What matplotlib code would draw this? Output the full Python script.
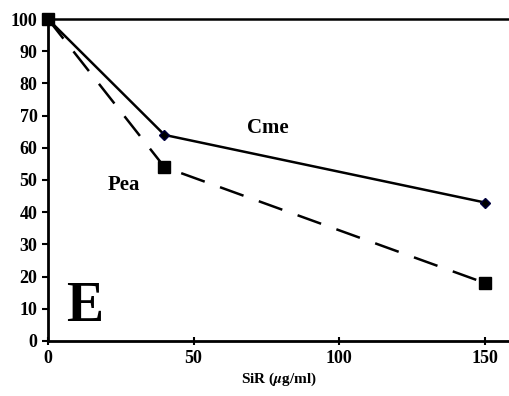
import matplotlib
matplotlib.use("Agg")
import matplotlib.pyplot as plt

# SiR concentration (ug/ml) vs. percent
sir = [0, 40, 150]
cme = [100, 64, 43]
pea = [100, 54, 18]
y_ticks = list(range(0, 101, 10))
x_ticks = [0, 50, 100, 150]

plt.rcParams["font.family"] = ["Liberation Serif", "DejaVu Serif"]
plt.rcParams["font.weight"] = "bold"
plt.rcParams["mathtext.fontset"] = "stix"

fig = plt.figure(figsize=(5.10, 3.96), dpi=100)
ax = fig.add_axes([0.094, 0.139, 0.906, 0.813])

ax.plot(sir, cme, color="black", lw=1.8, marker="D", ms=5.5,
        markerfacecolor="black", markeredgecolor="#000040", zorder=3,
        clip_on=False)
ax.plot(sir, pea, color="black", lw=1.8, ls=(0, (10, 6.5)), marker="s", ms=8,
        markerfacecolor="black", zorder=4, clip_on=False)

ax.set_xlim(0, 158.6)
ax.set_ylim(0, 100)
ax.set_xticks(x_ticks)
ax.set_yticks(y_ticks)
ax.tick_params(axis="both", labelsize=13, width=1.5, length=4)
ax.tick_params(axis="x", direction="inout", length=6)
for lab in ax.get_xticklabels() + ax.get_yticklabels():
    lab.set_fontweight("bold")

ax.spines["right"].set_visible(False)
for s in ["left", "bottom", "top"]:
    ax.spines[s].set_linewidth(2)
ax.spines["top"].set_linewidth(1.8)

ax.set_xlabel(r"SiR ($\mu$g/ml)", fontsize=11, fontweight="bold", labelpad=3)

ax.text(75.5, 66, "Cme", fontsize=15, fontweight="bold", ha="center", va="center")
ax.text(26, 48.5, "Pea", fontsize=15, fontweight="bold", ha="center", va="center")
ax.text(12.7, 10.5, "E", fontsize=40, fontweight="bold", ha="center", va="center")

fig.savefig("out.png", dpi=100)
